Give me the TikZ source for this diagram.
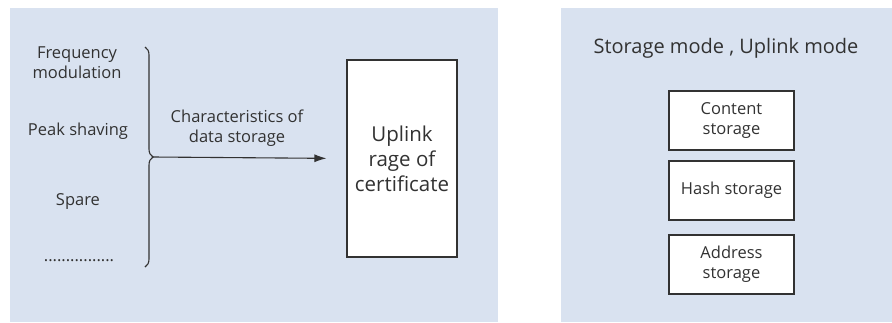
\documentclass[tikz,border=0pt]{standalone}
\usepackage{fontspec}
\setmainfont{Open Sans}
\usetikzlibrary{arrows.meta,decorations.pathreplacing}

\definecolor{panelblue}{RGB}{217,226,240}
\definecolor{inkgray}{RGB}{50,50,50}

\begin{document}
\begin{tikzpicture}[x=1pt,y=-1pt,
    every node/.style={text=inkgray,align=center,inner sep=0},
    modebox/.style={draw=inkgray,line width=1.1pt,fill=white,minimum width=125pt,minimum height=59pt}]
    \pgfmathsetmacro{\panelleft}{10}
    \pgfmathsetmacro{\panelright}{498}
    \pgfmathsetmacro{\modeleft}{561}
    \pgfmathsetmacro{\paneltop}{8}
    \providecommand{\itemfontsize}{\fontsize{16.5pt}{20pt}\selectfont}
    \providecommand{\certfontsize}{\fontsize{20.5pt}{25pt}\selectfont}
    \providecommand{\titlefontsize}{\fontsize{20pt}{22pt}\selectfont}
    \useasboundingbox (0,0) rectangle (892,322);
    % the two panels
    \fill[panelblue] (\panelleft,\paneltop) rectangle (\panelright,322);
    \fill[panelblue] (\modeleft,\paneltop) rectangle (892,322);
    % left panel: uses of the data
    \node[font=\itemfontsize](freq) at (77,63){Frequency\\modulation};
    \node[font=\itemfontsize](peak) at (78,131){Peak shaving};
    \node[font=\itemfontsize](spare) at (78,202){Spare};
    \node[font=\itemfontsize](more) at (79,261){................};
    \draw[inkgray,line width=1.1pt,decorate,decoration={brace,amplitude=8pt}] (145,47) -- (145,267);
    \coordinate (tip) at (153,157);
    \node[draw=inkgray,line width=1.1pt,fill=white,minimum width=110pt,minimum height=197pt,font=\certfontsize](cert) at (402,158.5){Uplink\\rage of\\certificate};
    \draw[inkgray,line width=1.1pt,-{Latex[length=12pt,width=8pt]},shorten >=20pt] (tip) -- (cert.west);
    \node[font=\itemfontsize](charac) at (237,128){Characteristics of\\data storage};
    % right panel: storage modes
    \node[font=\titlefontsize](title) at (726,48){Storage mode , Uplink mode};
    \node[modebox,font=\itemfontsize](content) at (731.5,120.5){Content\\storage};
    \node[modebox,font=\itemfontsize](hash) at (731.5,190.5){Hash storage};
    \node[modebox,font=\itemfontsize](address) at (731.5,264.5){Address\\storage};
\end{tikzpicture}
\end{document}
